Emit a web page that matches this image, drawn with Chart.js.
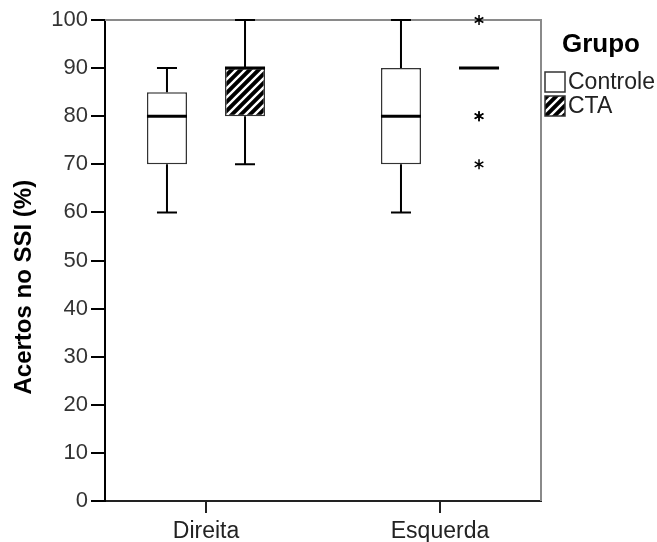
<!DOCTYPE html>
<html>
<head>
<meta charset="utf-8">
<script src="https://cdn.jsdelivr.net/npm/chart.js@4"></script>
<style>
  html, body { margin: 0; padding: 0; background: #fff; }
  #grafico { display: block; }
</style>
</head>
<body>
<canvas id="grafico" width="657" height="542"></canvas>
<script>
// === DADOS DO BOXPLOT ===
const categorias = ['Direita', 'Esquerda'];
const posicoes   = [1, 2];            // posição de cada categoria no eixo X
const grupos     = ['Controle', 'CTA'];
const tituloLegenda = 'Grupo';

// Controle
const controleMin     = [60, 60];
const controleQ1      = [70, 70];
const controleMediana = [80, 80];
const controleQ3      = [85, 90];
const controleMax     = [90, 100];
const controleAtipicos = [[], []];

// CTA
const ctaMin     = [70, 90];
const ctaQ1      = [80, 90];
const ctaMediana = [90, 90];
const ctaQ3      = [90, 90];
const ctaMax     = [100, 90];
const ctaAtipicos = [[], [100, 80, 80, 70]]; // asteriscos (80 aparece duas vezes)

// ticks do eixo Y
const ticksY = [0, 10, 20, 30, 40, 50, 60, 70, 80, 90, 100];

const fonte = "'Liberation Sans', Arial, sans-serif";

// === PADRÃO HACHURADO (CTA) ===
function criarHachura() {
  const c = document.createElement('canvas');
  c.width = 9; c.height = 9;
  const g = c.getContext('2d');
  g.fillStyle = '#000';
  g.fillRect(0, 0, 9, 9);
  g.strokeStyle = '#fff';
  g.lineWidth = 2.4;
  g.beginPath();
  g.moveTo(-1, 10); g.lineTo(10, -1);
  g.moveTo(-1, 1);  g.lineTo(1, -1);
  g.moveTo(8, 10);  g.lineTo(10, 8);
  g.stroke();
  return document.getElementById('grafico').getContext('2d').createPattern(c, 'repeat');
}
const hachura = criarHachura();

// monta as séries a partir dos arrays
const series = [
  { nome: grupos[0], min: controleMin, q1: controleQ1, med: controleMediana, q3: controleQ3, max: controleMax, atip: controleAtipicos, fundo: '#fff' },
  { nome: grupos[1], min: ctaMin, q1: ctaQ1, med: ctaMediana, q3: ctaQ3, max: ctaMax, atip: ctaAtipicos, fundo: hachura }
];

// asterisco de valor atípico
function desenharAsterisco(ctx, x, y, r) {
  ctx.beginPath();
  for (let k = 0; k < 3; k++) {
    const a = Math.PI / 2 + k * Math.PI / 3;
    ctx.moveTo(x + r * Math.cos(a), y - r * Math.sin(a));
    ctx.lineTo(x - r * Math.cos(a), y + r * Math.sin(a));
  }
  ctx.stroke();
}

// === PLUGIN: moldura, bigodes, medianas e atípicos ===
const pluginBoxplot = {
  id: 'boxplot',
  beforeDatasetsDraw(chart) {
    const { ctx, chartArea: a } = chart;
    ctx.save();
    ctx.strokeStyle = '#8a8a8a';
    ctx.lineWidth = 2;
    ctx.beginPath();
    ctx.moveTo(a.left, a.top);
    ctx.lineTo(a.right, a.top);
    ctx.lineTo(a.right, a.bottom);
    ctx.stroke();
    ctx.restore();
  },
  afterDatasetsDraw(chart) {
    const ctx = chart.ctx;
    const eixoY = chart.scales.y;
    ctx.save();
    ctx.strokeStyle = '#000';
    ctx.lineCap = 'butt';
    series.forEach((s, i) => {
      const meta = chart.getDatasetMeta(i);
      meta.data.forEach((barra, j) => {
        const x = barra.x;
        const w = barra.width;
        const yMin = eixoY.getPixelForValue(s.min[j]);
        const yQ1  = eixoY.getPixelForValue(s.q1[j]);
        const yQ3  = eixoY.getPixelForValue(s.q3[j]);
        const yMax = eixoY.getPixelForValue(s.max[j]);
        const yMed = eixoY.getPixelForValue(s.med[j]);

        ctx.lineWidth = 2;
        ctx.beginPath();
        if (s.max[j] > s.q3[j]) {
          ctx.moveTo(x, yQ3); ctx.lineTo(x, yMax);
          ctx.moveTo(x - w / 4, yMax); ctx.lineTo(x + w / 4, yMax);
        }
        if (s.min[j] < s.q1[j]) {
          ctx.moveTo(x, yQ1); ctx.lineTo(x, yMin);
          ctx.moveTo(x - w / 4, yMin); ctx.lineTo(x + w / 4, yMin);
        }
        ctx.stroke();

        // mediana
        ctx.lineWidth = 3;
        ctx.beginPath();
        ctx.moveTo(x - w / 2, yMed); ctx.lineTo(x + w / 2, yMed);
        ctx.stroke();

        // atípicos
        ctx.lineWidth = 1.5;
        s.atip[j].forEach(v => desenharAsterisco(ctx, x, eixoY.getPixelForValue(v), 5));
      });
    });
    ctx.restore();
  }
};

// === PLUGIN: legenda "Grupo" à direita da área do gráfico ===
const pluginLegenda = {
  id: 'legendaGrupo',
  afterDraw(chart) {
    const { ctx, chartArea: a } = chart;
    const x0 = a.right + 3;
    ctx.save();
    ctx.textBaseline = 'middle';
    ctx.textAlign = 'center';
    ctx.fillStyle = '#000';
    ctx.font = 'bold 26px ' + fonte;
    ctx.fillText(tituloLegenda, x0 + 57, 45);

    ctx.textAlign = 'left';
    ctx.font = '23px ' + fonte;
    series.forEach((s, i) => {
      const yc = 82 + i * 24;
      ctx.fillStyle = s.fundo;
      ctx.fillRect(x0 + 1, yc - 10, 20, 20);
      ctx.strokeStyle = '#333';
      ctx.lineWidth = 1.5;
      ctx.strokeRect(x0 + 1, yc - 10, 20, 20);
      ctx.fillStyle = '#222';
      ctx.fillText(s.nome, x0 + 24, yc + 1);
    });
    ctx.restore();
  }
};

// === GRÁFICO ===
new Chart(document.getElementById('grafico'), {
  type: 'bar',
  data: {
    datasets: series.map(s => ({
      label: s.nome,
      data: posicoes.map((p, j) => ({ x: p, y: [s.q1[j], s.q3[j]] })),
      backgroundColor: s.fundo,
      borderColor: '#333',
      borderWidth: 1.5,
      borderSkipped: false,
      categoryPercentage: 0.667,
      barPercentage: 0.513
    }))
  },
  options: {
    responsive: false,
    animation: false,
    devicePixelRatio: 1,
    layout: { padding: { top: 20, left: 0, right: 116, bottom: 0 } },
    scales: {
      x: {
        type: 'linear',
        min: 0.5684,
        max: 2.4316,
        offset: false,
        afterBuildTicks: scale => { scale.ticks = posicoes.map(v => ({ value: v })); },
        afterFit: scale => { scale.height = 41; },
        ticks: {
          callback: (v, i) => categorias[i],
          color: '#222',
          font: { family: fonte, size: 23 },
          padding: 5,
          maxRotation: 0
        },
        grid: {
          offset: false,
          drawOnChartArea: false,
          drawTicks: true,
          tickLength: 12,
          tickColor: '#222',
          lineWidth: 2
        },
        border: { color: '#222', width: 2 }
      },
      y: {
        min: 0,
        max: 100,
        afterBuildTicks: scale => { scale.ticks = ticksY.map(v => ({ value: v })); },
        afterFit: scale => { scale.width = 105; },
        ticks: {
          color: '#333',
          font: { family: fonte, size: 22 },
          padding: 3
        },
        grid: {
          drawOnChartArea: false,
          drawTicks: true,
          tickLength: 14,
          tickColor: '#000',
          lineWidth: 2
        },
        border: { color: '#000', width: 2 },
        title: {
          display: true,
          text: 'Acertos no SSI (%)        ',
          color: '#000',
          font: { family: fonte, size: 24, weight: 'bold' },
          padding: { top: 10, bottom: 0 }
        }
      }
    },
    plugins: {
      legend: { display: false },
      tooltip: { enabled: false }
    }
  },
  plugins: [pluginBoxplot, pluginLegenda]
});
</script>
</body>
</html>
